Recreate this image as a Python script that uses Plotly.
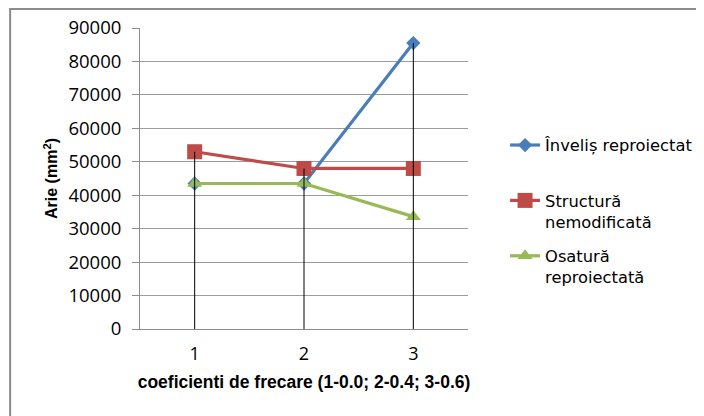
import plotly.graph_objects as go

categorii = ['1', '2', '3']
invelis = [43500, 43500, 85500]
structura = [53000, 48000, 48000]
osatura = [43500, 43500, 33600]

nume = ['Înveliș reproiectat<br>&nbsp;', 'Structură<br>nemodificată', 'Osatură<br>reproiectată']
culori = ['#4A7EBB', '#BE4B48', '#98B954']
simboluri = ['diamond', 'square', 'triangle-up']
marimi = [11, 15, 13]

y_ticks = list(range(0, 90001, 10000))

fig = go.Figure()
for i, serie in enumerate([invelis, structura, osatura]):
    fig.add_trace(go.Scatter(
        x=categorii, y=serie, name=nume[i], mode='lines+markers',
        line=dict(color=culori[i], width=3.2),
        marker=dict(symbol=simboluri[i], size=marimi[i], color=culori[i]),
        legendgroup=str(i)))

# linii verticale de la maximul fiecarei categorii pana la 0
xs, ys = [], []
for j, c in enumerate(categorii):
    varf = max(invelis[j], structura[j], osatura[j])
    xs += [c, c, None]
    ys += [0, varf, None]
fig.add_trace(go.Scatter(x=xs, y=ys, mode='lines', showlegend=False,
                         line=dict(color='black', width=1), hoverinfo='skip'))

# pagina are margine de 8px, deci figura e putin mai mica
fig.update_layout(
    width=696, height=408,
    margin=dict(l=132, r=236, t=20, b=87, autoexpand=False),
    paper_bgcolor='white', plot_bgcolor='white',
    font=dict(family='Liberation Sans, Arial', color='#000000'),
    legend=dict(x=1.113, y=0.668, xanchor='left', yanchor='top',
                font=dict(size=16.3, family='DejaVu Sans'),
                traceorder='grouped', tracegroupgap=10, itemwidth=30,
                valign='top'),
    shapes=[dict(type='rect', xref='paper', yref='paper',
                 x0=-0.396, x1=2, y0=-0.6, y1=1.0635,
                 line=dict(color='#8c8c8c', width=2))],
)

fig.update_xaxes(
    type='category', range=[-0.5, 2.5], automargin=False,
    showline=True, linecolor='#8c8c8c', linewidth=1,
    showgrid=False, ticks='', ticklabelstandoff=8,
    tickfont=dict(size=18, family='Open Sans'),
    title=dict(text='<b>coeficienti de frecare (1-0.0; 2-0.4; 3-0.6)</b>',
               font=dict(size=17.5, family='Liberation Sans, Arial'), standoff=12),
)
fig.update_yaxes(
    range=[0, 90000], tickvals=y_ticks, ticktext=[str(v) for v in y_ticks],
    automargin=False,
    showline=True, linecolor='#8c8c8c', linewidth=1,
    showgrid=True, gridcolor='#9c9c9c', gridwidth=1,
    ticks='outside', ticklen=7, tickcolor='#8c8c8c', ticklabelstandoff=7,
    tickfont=dict(size=18.5, family='Open Sans'),
    title=dict(text='<b>Arie (mm<sup>2</sup>)</b>',
               font=dict(size=16, family='Liberation Sans, Arial'), standoff=6),
    zeroline=False,
)

fig.write_html('out.html')
